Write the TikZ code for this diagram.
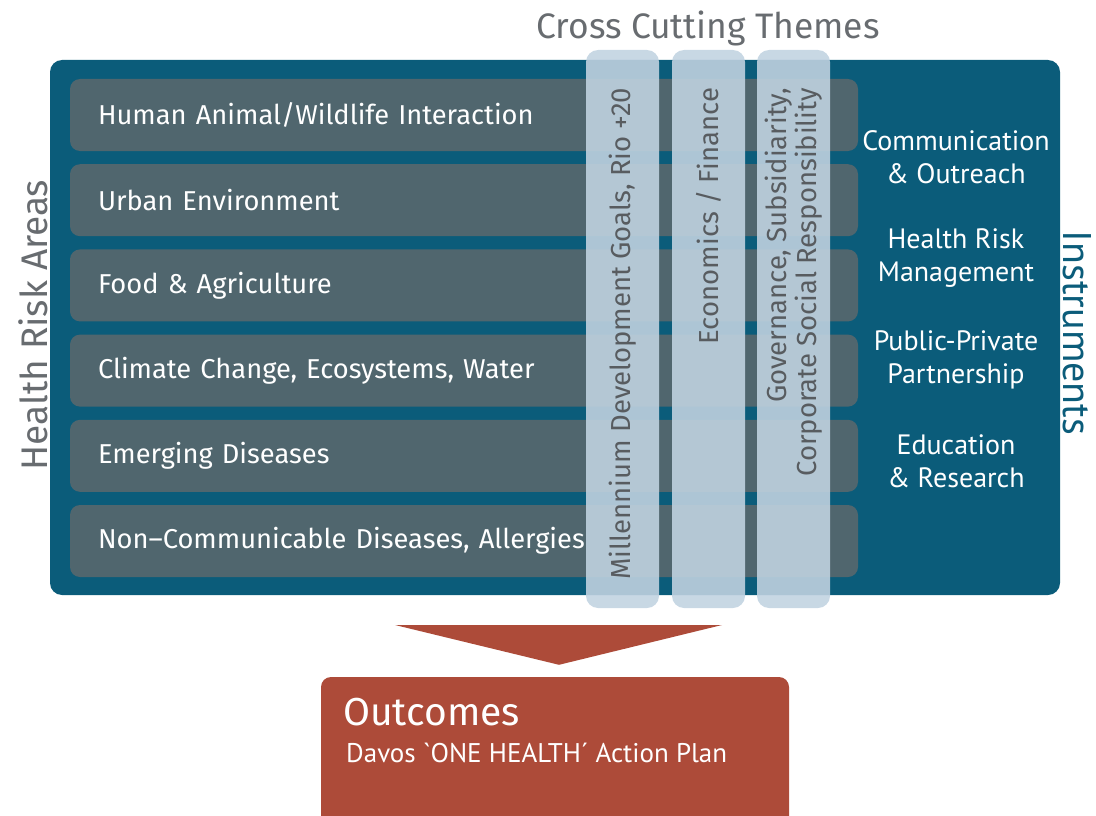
\documentclass[tikz,border=0pt]{standalone}
\usepackage{fontspec}
\setmainfont{Fira Sans}
\newfontfamily\myriad[Ligatures=TeXOff]{PT Sans}
\usetikzlibrary{positioning}
\definecolor{panel}{RGB}{11,92,122}
\definecolor{rowgrey}{RGB}{80,102,110}
\definecolor{themeblue}{RGB}{193,211,225}
\definecolor{outred}{RGB}{173,75,57}
\definecolor{labelgrey}{RGB}{104,108,112}
\definecolor{bartext}{RGB}{88,92,96}
\begin{document}
\begin{tikzpicture}[x=1pt, y=-1pt,
	area/.style = {fill=rowgrey, rounded corners=10pt, minimum width=788pt, minimum height=72pt,
		text width=732pt, inner xsep=28pt, align=left, text=white, font=\fontsize{27.3}{30}\selectfont},
	theme/.style = {fill=themeblue, fill opacity=0.89, rounded corners=12pt, minimum width=73pt, minimum height=558pt},
	themetext/.style = {rotate=90, anchor=east, inner sep=0pt, align=right, text=bartext, font=\fontsize{27.5}{30}\selectfont},
	instr/.style = {align=center, text=white, font=\myriad\fontsize{28}{33}\selectfont}]
	\useasboundingbox (0,0) rectangle (1096,816);
%	\draw[help lines, step=100] (0,0) grid (1096,816);
	\node [fill=panel, rounded corners=12pt, minimum width=1010pt, minimum height=535pt] (panel) at (555,327.5) {};
	% health risk areas
	\foreach \txt [count=\i] in {Human Animal/Wildlife Interaction, Urban Environment, Food \& Agriculture,
		{Climate Change, Ecosystems, Water}, Emerging Diseases, {Non–Communicable Diseases, Allergies}}
		\node [area] (area\i) at (464, 29.8+85.2*\i) {\txt};
	% cross cutting themes
	\foreach \x [count=\i] in {622.5, 708.5, 793.5}
		\node [theme] (theme\i) at (\x,329) {};
	\node [themetext] (mdg) at ([yshift=-38pt]theme1.north) {Millennium Development Goals, Rio +20};
	\node [themetext] (econ) at ([yshift=-38pt]theme2.north) {Economics / Finance};
	\node [themetext] (gov) at ([yshift=-38pt]theme3.north) {Governance, Subsidiarity,\\Corporate Social Responsibility};
	\node [text=labelgrey, font=\fontsize{35.4}{40}\selectfont] (cross) at (708,28) {Cross Cutting Themes};
	\node [rotate=90, text=labelgrey, font=\fontsize{37}{40}\selectfont] (hra) at (33,325) {Health Risk Areas};
	% instruments
	\node [rotate=-90, text=panel, font=\myriad\fontsize{40}{44}\selectfont] (instruments) at (1077,333) {Instruments};
	\node [instr] (comm) at (956,157) {Communication\\\& Outreach};
	\node [instr] (hrm) at (956,258) {Health Risk\\Management};
	\node [instr] (ppp) at (956,360) {Public-Private\\Partnership};
	\node [instr] (edu) at (956,461) {Education\\\& Research};
	% outcomes
	\node [fill=outred, rounded corners=10pt, minimum width=468pt, minimum height=160pt] (outbox) at (555,757) {};
	\coordinate (tip) at ([xshift=4pt,yshift=12pt]outbox.north);
	\fill [outred] (395,625) -- (722,625) -- (tip) -- cycle;
	\node [anchor=west, inner sep=0pt, text=white, font=\fontsize{39}{44}\selectfont] (outtitle) at (343,712) {Outcomes};
	\node [anchor=west, inner sep=0pt, text=white, font=\myriad\fontsize{27}{30}\selectfont] (outplan) at (346,753) {Davos `ONE HEALTH´ Action Plan};
\end{tikzpicture}
\end{document}
